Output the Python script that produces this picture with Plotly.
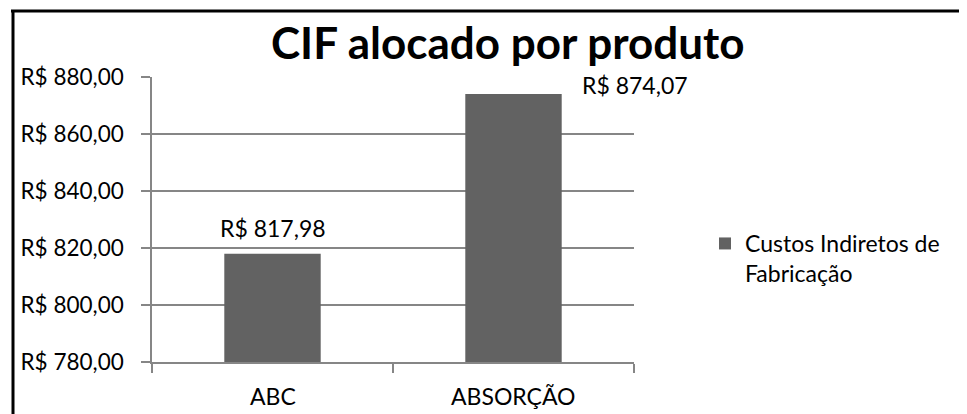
import plotly.graph_objects as go

categories = ["ABC", "ABSORÇÃO"]
values = [817.98, 874.07]
value_labels = ["R$ 817,98", "R$ 874,07"]
series_name = "Custos Indiretos de<br>Fabricação"
title_text = "CIF alocado por produto"
y_tickvals = [780, 800, 820, 840, 860, 880]
y_ticktext = ["R$ 780,00", "R$ 800,00", "R$ 820,00", "R$ 840,00", "R$ 860,00", "R$ 880,00"]

OFF = 8  # page body margin
W, H = 967 - OFF, 414 - OFF
L, R, T, B = 152 - OFF, 333, 77 - OFF, 52
pw, ph = W - L - R, H - T - B

def px_x(p):
    return (p - OFF - L) / pw

def px_y(p):
    return (H - B - (p - OFF)) / ph

FONT = "Lato"
GRID = "#868686"

fig = go.Figure()
fig.add_trace(go.Bar(
    x=categories, y=values, name=series_name,
    marker=dict(color="#626262", line=dict(width=0)),
    width=0.4, showlegend=True,
))

# data labels
fig.add_annotation(x=categories[0], y=values[0], text=value_labels[0],
                   showarrow=False, yanchor="bottom", yshift=10,
                   font=dict(family=FONT, size=23, color="#000"))
fig.add_annotation(x=categories[1], y=values[1], text=value_labels[1],
                   showarrow=False, xanchor="left", yanchor="middle",
                   xshift=66, yshift=9,
                   font=dict(family=FONT, size=23, color="#000"))

# title
fig.add_annotation(x=px_x(507), y=px_y(42), xref="paper", yref="paper",
                   text="<b>" + title_text + "</b>", showarrow=False,
                   xanchor="center", yanchor="middle",
                   font=dict(family=FONT, size=44, color="#000"))

# chart border (top and left visible)
fig.add_shape(type="line", xref="paper", yref="paper",
              x0=px_x(11), x1=px_x(980), y0=px_y(11), y1=px_y(11),
              line=dict(color="#000", width=3))
fig.add_shape(type="line", xref="paper", yref="paper",
              x0=px_x(13), x1=px_x(13), y0=px_y(10), y1=px_y(430),
              line=dict(color="#000", width=3))

fig.update_layout(
    width=W, height=H,
    margin=dict(l=L, r=R, t=T, b=B, autoexpand=False),
    paper_bgcolor="white", plot_bgcolor="white",
    font=dict(family=FONT, size=23, color="#000"),
    bargap=0.6,
    showlegend=True,
    legend=dict(x=px_x(705), y=px_y(222), xanchor="left", yanchor="top",
                font=dict(family=FONT, size=23, color="#000"),
                itemwidth=30, valign="top", bgcolor="rgba(0,0,0,0)",
                borderwidth=0),
    xaxis=dict(showgrid=False, showline=True, linecolor=GRID, linewidth=1.5,
               ticks="outside", ticklen=9, tickcolor=GRID, tickwidth=1.5,
               tickmode="array", tickvals=[-0.5, 0.5, 1.5], ticktext=["", "", ""],
               range=[-0.5, 1.5], fixedrange=True),
    yaxis=dict(range=[780, 880], tickmode="array", tickvals=y_tickvals,
               ticktext=y_ticktext, showgrid=True, gridcolor=GRID, gridwidth=1.5,
               showline=True, linecolor=GRID, linewidth=1.5,
               ticks="outside", ticklen=9, tickcolor=GRID, tickwidth=1.5,
               ticklabelstandoff=13, zeroline=False, fixedrange=True,
               tickfont=dict(family=FONT, size=22.5, color="#000")),
)

# category labels under the axis
for c in categories:
    fig.add_annotation(x=c, y=0, yref="paper", text=c, showarrow=False,
                       yanchor="top", yshift=-18,
                       font=dict(family=FONT, size=23, color="#000"))

fig.write_html("out.html")
